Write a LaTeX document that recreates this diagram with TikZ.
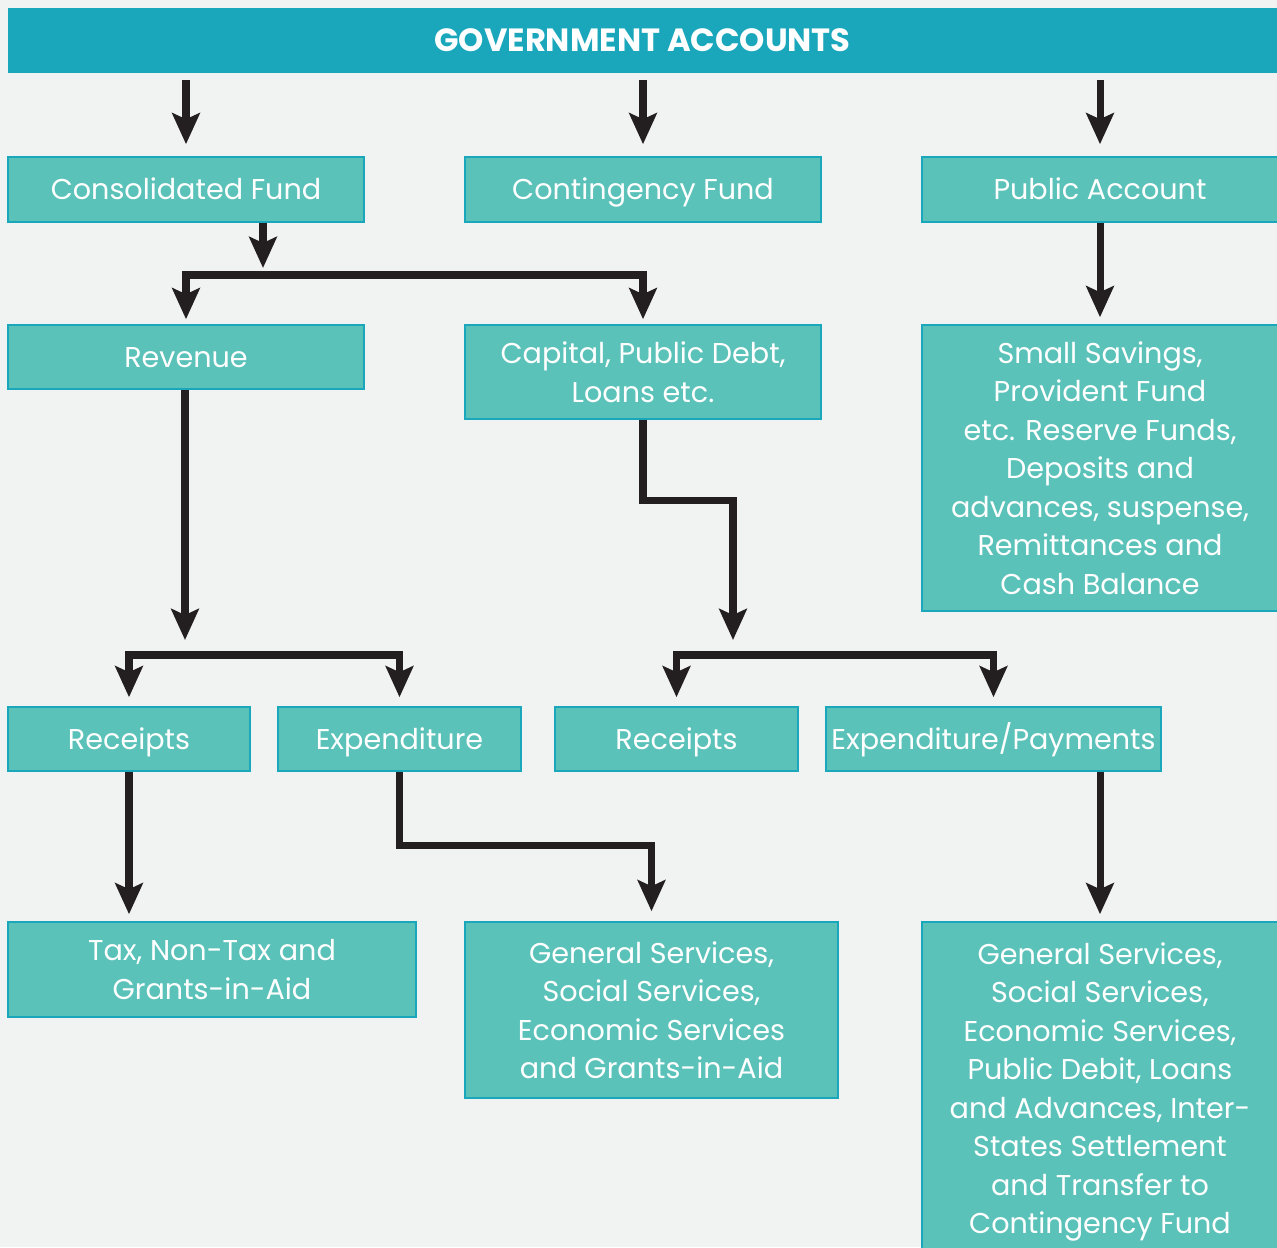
\documentclass[tikz,border=0pt]{standalone}
\usepackage{fontspec}
\setmainfont{Poppins}
\usepackage{tikz}
\usetikzlibrary{arrows.meta, positioning, calc}

\definecolor{govteal}{HTML}{1AA7BC}
\definecolor{boxteal}{HTML}{5BC2B9}
\definecolor{paper}{HTML}{F1F2F2}
\definecolor{arrowink}{HTML}{231F20}

\tikzset{
    boxsize/.style 2 args={minimum width=#1*0.02cm, minimum height=#2*0.02cm},
    fundbox/.style={
        draw=govteal,
        line width=0.9pt,
        fill=boxteal,
        text=white,
        align=center,
        inner sep=0pt,
        font=\fontsize{16.3}{21.9}\selectfont
    },
    oneline/.style={text height=14pt, text depth=2.6pt},
    titlebar/.style={
        fill=govteal,
        text=white,
        inner sep=0pt,
        text height=15pt, text depth=2pt,
        font=\fontsize{18.3}{20}\selectfont\bfseries
    },
    link/.style={draw=arrowink, line width=4pt},
    flow/.style={link, -{Stealth[length=0.62cm, width=0.55cm, inset=0.12cm]}},
    forked/.style={link, {Stealth[length=0.62cm, width=0.55cm, inset=0.12cm]}-{Stealth[length=0.62cm, width=0.55cm, inset=0.12cm]}}
}

\begin{document}
\begin{tikzpicture}[x=0.02cm, y=-0.02cm]
    \useasboundingbox (0,0) rectangle (1277,1247);
    \clip (0,0) rectangle (1277,1247);
    \fill[paper] (0,0) rectangle (1277,1247);

    % top bar
    \node[titlebar, boxsize={1269}{65}] (govt) at (642.5,40.5) {GOVERNMENT ACCOUNTS};

    % first row
    \node[fundbox, oneline, boxsize={356}{65}] (cons) at (186,189.5) {Consolidated Fund};
    \node[fundbox, oneline, boxsize={356}{65}] (cont) at (643,189.5) {Contingency Fund};
    \node[fundbox, oneline, boxsize={356}{65}] (pub) at (1100,189.5) {Public Account};

    % second row
    \node[fundbox, oneline, boxsize={356}{64}] (rev) at (186,357) {Revenue};
    \node[fundbox, boxsize={356}{94}] (cap) at (643,372) {Capital, Public Debt,\\Loans etc.};
    \node[fundbox, boxsize={356}{286}] (sav) at (1100,468) {Small Savings,\\Provident Fund\\etc. Reserve Funds,\\Deposits and\\advances, suspense,\\Remittances and\\Cash Balance};

    % third row
    \node[fundbox, oneline, boxsize={242}{64}] (rec1) at (129,739) {Receipts};
    \node[fundbox, oneline, boxsize={243}{64}] (exp1) at (399.5,739) {Expenditure};
    \node[fundbox, oneline, boxsize={243}{64}] (rec2) at (676.5,739) {Receipts};
    \node[fundbox, oneline, boxsize={335}{64}] (exp2) at (993.5,739) {Expenditure/Payments};

    % bottom row
    \node[fundbox, boxsize={408}{95}] (tax) at (212,969.5) {Tax, Non-Tax and\\Grants-in-Aid};
    \node[fundbox, boxsize={373}{176}] (gen1) at (651.5,1010) {General Services,\\Social Services,\\Economic Services\\and Grants-in-Aid};
    \node[fundbox, boxsize={356}{340}] (gen2) at (1100,1092) {General Services,\\Social Services,\\Economic Services,\\Public Debit, Loans\\and Advances, Inter-\\States Settlement\\and Transfer to\\Contingency Fund};

    % branch points
    \coordinate (cfork) at (263,275);
    \coordinate (rfork) at (185,655);
    \coordinate (kfork) at (733,655);

    % arrows
    \draw[flow, shorten <=0.14cm, shorten >=0.24cm] (govt.south -| cons.north) -- (cons.north);
    \draw[flow, shorten <=0.14cm, shorten >=0.24cm] (govt.south -| cont.north) -- (cont.north);
    \draw[flow, shorten <=0.14cm, shorten >=0.24cm] (govt.south -| pub.north) -- (pub.north);

    \draw[flow] (cons.south -| cfork) -- ([yshift=4pt]cfork);
    \draw[forked, shorten <=0.1cm, shorten >=0.1cm] (rev.north) |- (cfork) -| (cap.north);
    \draw[flow, shorten >=0.14cm] (pub.south) -- (sav.north);

    \draw[flow] (rev.south -| rfork) -- ([yshift=0.3cm]rfork);
    \draw[forked, shorten <=0.18cm, shorten >=0.18cm] (rec1.north) |- (rfork) -| (exp1.north);

    \draw[flow] (cap.south) -- ++(0,81) -| ([yshift=0.3cm]kfork);
    \draw[forked, shorten <=0.18cm, shorten >=0.18cm] (rec2.north) |- (kfork) -| (exp2.north);

    \draw[flow, shorten >=0.14cm] (rec1.south) -- (rec1.south |- tax.north);
    \draw[flow, shorten >=0.2cm] (exp1.south) -- ++(0,74) -| (gen1.north);
    \draw[flow, shorten >=0.14cm] (exp2.south -| gen2.north) -- (gen2.north);
\end{tikzpicture}
\end{document}
